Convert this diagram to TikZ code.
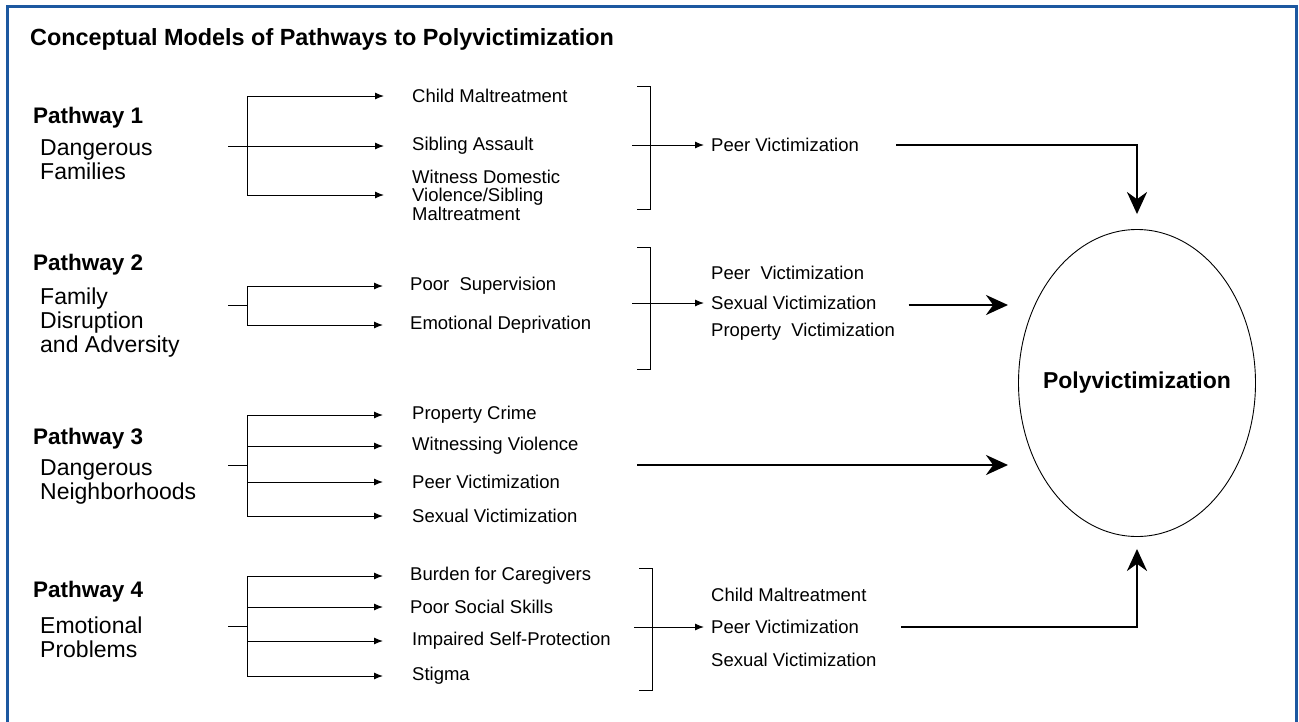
\documentclass[tikz,border=0pt]{standalone}
\usepackage{fontspec}
\setmainfont{Liberation Sans}
\usetikzlibrary{shapes.geometric, arrows.meta, calc, positioning}

\definecolor{frameblue}{RGB}{28,88,160}

\tikzset{
    feed/.style={-{Latex[length=9pt,width=7pt]}, line width=1pt},
    lead/.style={-{Stealth[length=22pt,width=20pt]}, line width=2.8pt},
    item/.style={anchor=west, inner sep=0pt, align=left, font=\fontsize{18.5}{18.5}\selectfont},
    phead/.style={anchor=west, inner sep=0pt, font=\fontsize{22.5}{24}\selectfont\bfseries},
    pdesc/.style={anchor=west, inner sep=0pt, align=left, font=\fontsize{23}{24}\selectfont},
    brace/.style={line width=1pt}
}

\begin{document}
\begin{tikzpicture}[x=1pt,y=-1pt]
        % Page and blue frame
        \useasboundingbox (0,0) rectangle (1299,721);
        \draw[frameblue, line width=3pt] (7,730) -- (7,6.5) -- (1296,6.5) -- (1296,730);

        % Title
        \node[anchor=west, inner sep=0pt, font=\fontsize{23.4}{24}\selectfont\bfseries] (title) at (30,39) {Conceptual Models of Pathways to Polyvictimization};

        % Outcome
        \node[draw, ellipse, line width=0.9pt, minimum width=237pt, minimum height=307pt] (poly) at (1137,383) {};
        \node[font=\fontsize{23}{24}\selectfont\bfseries] (polytext) at (poly) {Polyvictimization};

        % Pathway 1
        \node[phead] (p1) at (33,118) {Pathway 1};
        \node[pdesc] (p1d) at (40,160) {Dangerous\\Families};
        \coordinate (p1s) at (228,146);
        \coordinate (p1j) at (247,146);
        \node[item] (p1a) at (412,96) {Child Maltreatment};
        \node[item] (p1b) at (412,146) {Sibling Assault};
        \node[item] (p1c) at (412,195) {Witness Domestic\\Violence/Sibling\\Maltreatment};
        \draw[line width=1pt] (p1s) -- (p1j);
        \foreach \t in {p1a,p1b,p1c}
            \draw[feed] (p1j) |- ([xshift=-28pt]\t.west);

        \coordinate (k1t) at (650,86);
        \coordinate (k1b) at (650,209);
        \draw[brace] ([xshift=-13pt]k1t) -- (k1t) -- (k1b) -- ([xshift=-13pt]k1b);
        \coordinate (k1s) at (632,145);
        \node[item] (o1) at (711,145) {Peer Victimization};
        \draw[feed] (k1s) -- ([xshift=-7pt]o1.west);
        \draw[lead] ([xshift=37pt]o1.east) -| ([yshift=15pt]poly.north);

        % Pathway 2
        \node[phead] (p2) at (33,265) {Pathway 2};
        \node[pdesc] (p2d) at (40,323) {Family\\Disruption\\and Adversity};
        \coordinate (p2s) at (228,305);
        \coordinate (p2j) at (247,305);
        \node[item] (p2a) at (410,286) {Poor~ Supervision};
        \node[item] (p2b) at (410,325) {Emotional Deprivation};
        \draw[line width=1pt] (p2s) -- (p2j);
        \foreach \t in {p2a,p2b}
            \draw[feed] (p2j) |- ([xshift=-27pt]\t.west);

        \coordinate (k2t) at (650,247);
        \coordinate (k2b) at (650,369);
        \draw[brace] ([xshift=-13pt]k2t) -- (k2t) -- (k2b) -- ([xshift=-13pt]k2b);
        \coordinate (k2s) at (632,303);
        \node[item] (o2a) at (711,273) {Peer~ Victimization};
        \node[item] (o2b) at (711,303) {Sexual Victimization};
        \node[item] (o2c) at (711,332) {Property~ Victimization};
        \draw[feed] (k2s) -- ([xshift=-7pt]o2b.west);
        \coordinate (e2) at (1008,305);
        \draw[lead] ([xshift=32pt]o2b.east |- e2) -- (e2);

        % Pathway 3
        \node[phead] (p3) at (33,439) {Pathway 3};
        \node[pdesc] (p3d) at (40,482) {Dangerous\\Neighborhoods};
        \coordinate (p3s) at (228,465);
        \coordinate (p3j) at (247,465);
        \node[item] (p3a) at (412,415) {Property Crime};
        \node[item] (p3b) at (412,446) {Witnessing Violence};
        \node[item] (p3c) at (412,482) {Peer Victimization};
        \node[item] (p3d2) at (412,516) {Sexual Victimization};
        \draw[line width=1pt] (p3s) -- (p3j);
        \foreach \t in {p3a,p3b,p3c,p3d2}
            \draw[feed] (p3j) |- ([xshift=-29pt]\t.west);

        \coordinate (s3) at (637,465);
        \coordinate (e3) at (1008,465);
        \draw[lead] (s3) -- (e3);

        % Pathway 4
        \node[phead] (p4) at (33,592) {Pathway 4};
        \node[pdesc] (p4d) at (40,637) {Emotional\\Problems};
        \coordinate (p4s) at (228,626);
        \coordinate (p4j) at (247,626);
        \node[item] (p4a) at (410,576) {Burden for Caregivers};
        \node[item] (p4b) at (410,607) {Poor Social Skills};
        \node[item] (p4c) at (412,641) {Impaired Self-Protection};
        \node[item] (p4d2) at (412,676) {Stigma};
        \draw[line width=1pt] (p4s) -- (p4j);
        \foreach \t in {p4a,p4b,p4c,p4d2}
            \draw[feed] (p4j) |- (383,0 |- \t.west);

        \coordinate (k4t) at (652,568);
        \coordinate (k4b) at (652,690);
        \draw[brace] ([xshift=-13pt]k4t) -- (k4t) -- (k4b) -- ([xshift=-13pt]k4b);
        \coordinate (k4s) at (634,627);
        \node[item] (o4a) at (711,595) {Child Maltreatment};
        \node[item] (o4b) at (711,627) {Peer Victimization};
        \node[item] (o4c) at (711,660) {Sexual Victimization};
        \draw[feed] (k4s) -- ([xshift=-7pt]o4b.west);
        \draw[lead] ([xshift=42pt]o4b.east) -| ([yshift=-12pt]poly.south);
\end{tikzpicture}
\end{document}
